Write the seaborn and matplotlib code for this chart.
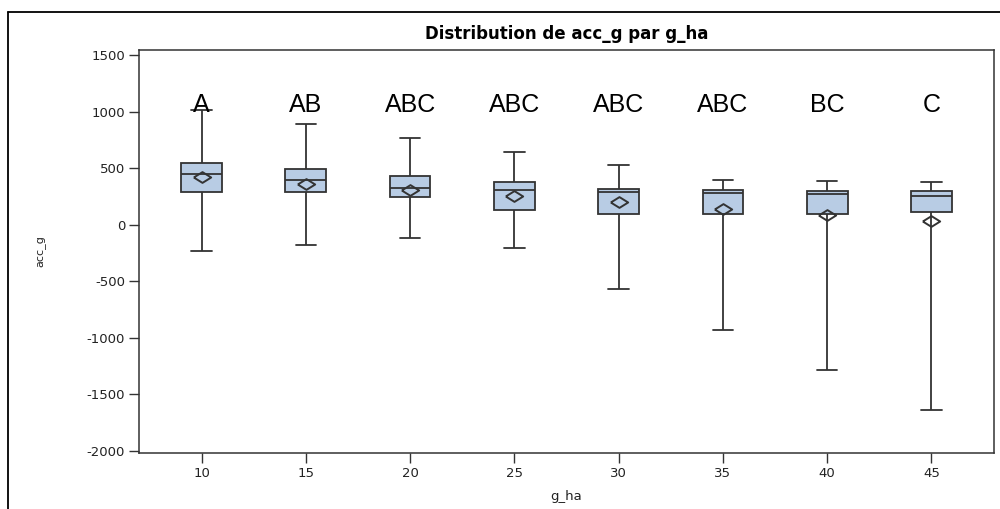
import numpy as np
import pandas as pd
import matplotlib
matplotlib.use("Agg")
import matplotlib.pyplot as plt
from matplotlib.lines import Line2D
import seaborn as sns

# ---- data ----
groups = ["10", "15", "20", "25", "30", "35", "40", "45"]
acc_min = [-230, -177, -121, -206, -567, -930, -1284, -1639]
acc_q1 = [290, 290, 242, 130, 95, 95, 95, 115]
acc_median = [449, 392, 328, 310, 290, 281, 272, 257]
acc_q3 = [549, 493, 428, 375, 319, 304, 295, 295]
acc_max = [1018, 886, 764, 644, 525, 399, 390, 381]
acc_mean = [419, 363, 310, 251, 201, 142, 89, 29]
letters = ["A", "AB", "ABC", "ABC", "ABC", "ABC", "BC", "C"]
letter_y = 1060
y_ticks = [-2000, -1500, -1000, -500, 0, 500, 1000, 1500]

# five-number summaries per group -> seaborn computes quartiles exactly from these
rows = []
for g, a, b, c, d, e in zip(groups, acc_min, acc_q1, acc_median, acc_q3, acc_max):
    for v in (a, b, c, d, e):
        rows.append({"g_ha": g, "acc_g": v})
df = pd.DataFrame(rows)
df_mean = pd.DataFrame({"g_ha": groups, "acc_g": acc_mean})

sns.set_theme(style="white")
plt.rcParams["font.family"] = ["DejaVu Sans"]

fig = plt.figure(figsize=(10, 5.09), dpi=100)
ax = fig.add_axes([0.139, 0.110, 0.855, 0.792])

edge = "#333333"
sns.boxplot(data=df, x="g_ha", y="acc_g", order=groups, whis=(0, 100),
            width=0.39, color="#b8cce4", saturation=1, linecolor=edge,
            linewidth=1.3, fliersize=0, ax=ax,
            whiskerprops=dict(color=edge), capprops=dict(color=edge),
            medianprops=dict(color=edge))

diamond = [(-1, 0), (0, 0.62), (1, 0), (0, -0.62), (-1, 0)]
sns.pointplot(data=df_mean, x="g_ha", y="acc_g", order=groups, errorbar=None,
              linestyle="none", marker=diamond, markersize=12.5,
              markerfacecolor="none", markeredgecolor=edge,
              markeredgewidth=1.4, color=edge, ax=ax)

for i, lab in enumerate(letters):
    ax.text(i, letter_y, lab, ha="center", va="center", fontsize=18,
            family="Liberation Sans", color="black")

ax.set_xlim(-0.6, 7.6)
ax.set_ylim(-2018, 1545)
ax.set_yticks(y_ticks)
ax.set_yticklabels([str(t) for t in y_ticks])
ax.tick_params(axis="both", which="major", direction="out", length=7,
               width=1, color=edge, labelsize=9.5, labelcolor="#222222",
               left=True, bottom=True, pad=3)
for s in ax.spines.values():
    s.set_visible(True)
    s.set_color(edge)
    s.set_linewidth(1.1)

ax.set_xlabel("g_ha", fontsize=9.5, color="#222222", labelpad=7)
ax.set_ylabel("acc_g", fontsize=8, color="#222222", labelpad=30)
ax.set_title("Distribution de acc_g par g_ha", fontsize=12, fontweight="bold",
             pad=8, color="black")

# outer frame lines of the screenshot
fig.add_artist(Line2D([0.008, 0.008], [0.0, 1 - 12 / 509], color="black", lw=1.3,
                      transform=fig.transFigure))
fig.add_artist(Line2D([0.008, 1.0], [1 - 12 / 509, 1 - 12 / 509], color="black",
                      lw=1.3, transform=fig.transFigure))

fig.savefig("out.png", dpi=100)
